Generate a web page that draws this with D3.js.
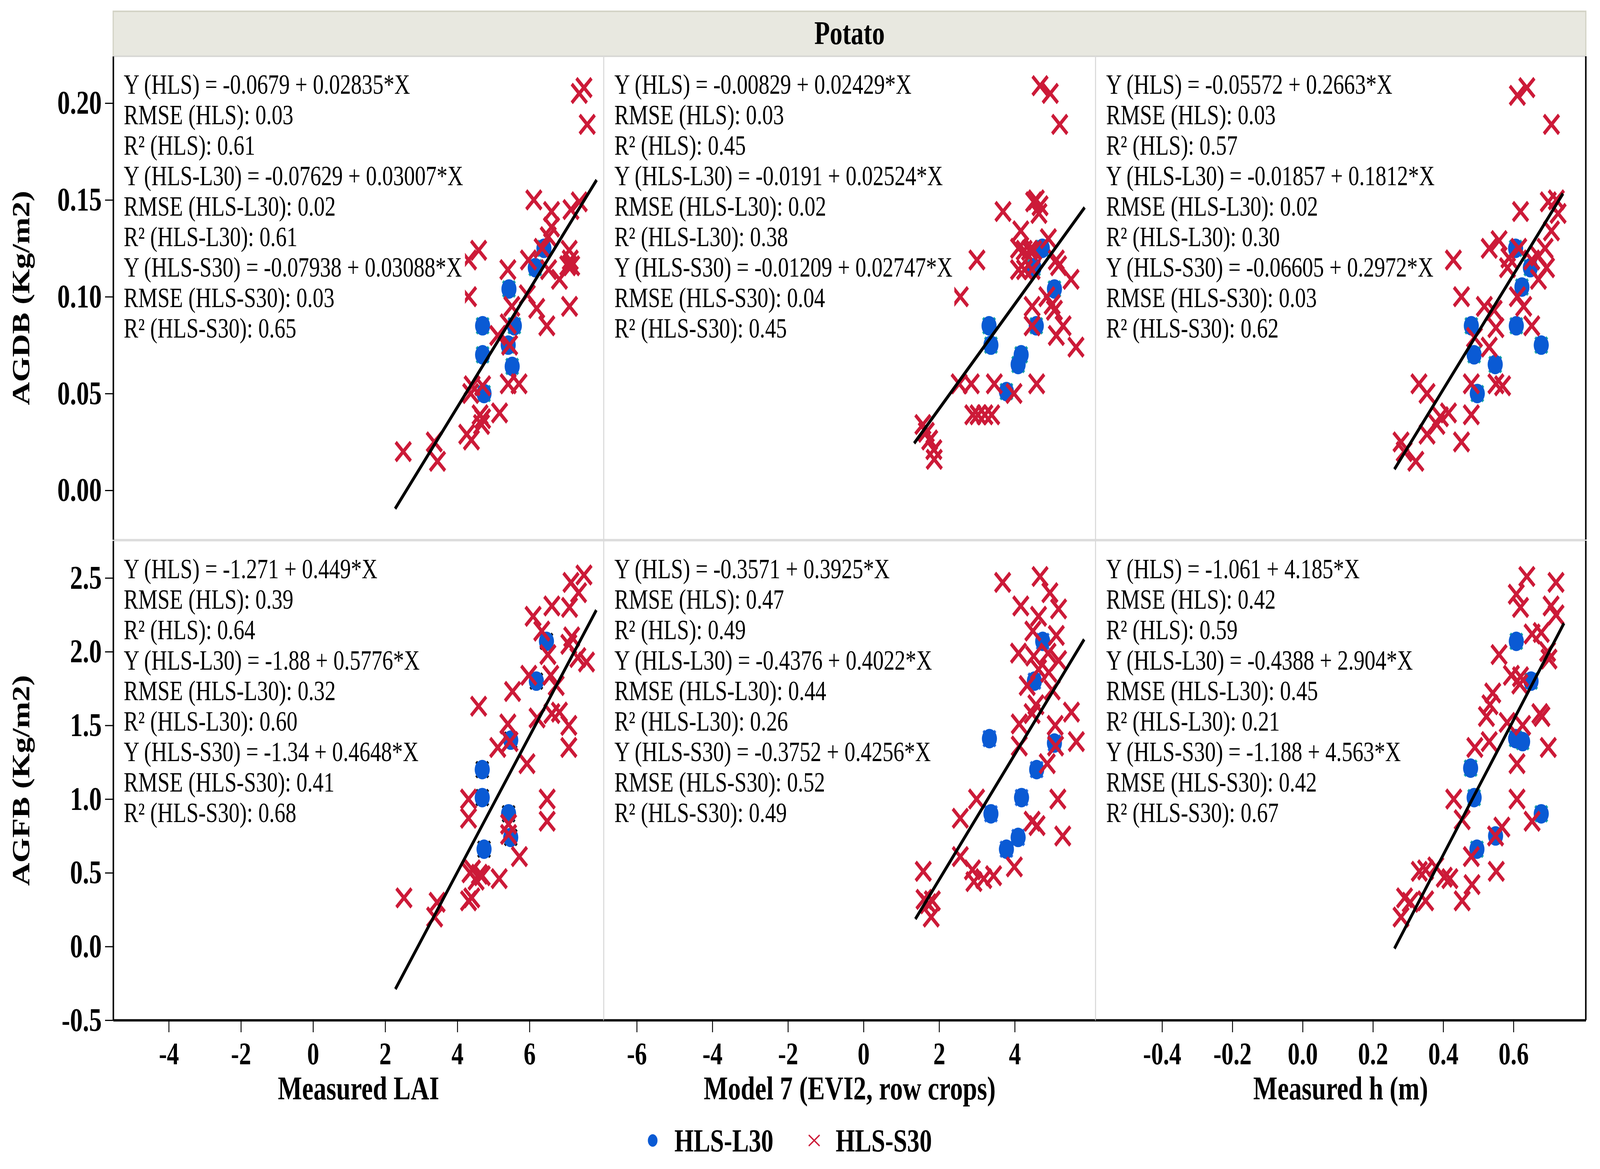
<!DOCTYPE html>
<html>
<head>
<meta charset="utf-8">
<script src="https://cdn.jsdelivr.net/npm/d3@7"></script>
<style>
  html, body { margin: 0; padding: 0; background: #fff; overflow: hidden; }
  svg { display: block; width: 100vw; height: 100vh; font-family: "Liberation Serif", "Times New Roman", serif; }
</style>
</head>
<body>
<div id="chart"></div>
<script>
// ---- data ----
var stripLabel = "Potato";
var xTitles = ["Measured LAI", "Model 7 (EVI2, row crops)", "Measured h (m)"];
var yTitles = ["AGDB (Kg/m2)", "AGFB (Kg/m2)"];
var seriesNames = ["HLS-L30", "HLS-S30"];

var colDomains = [[-5.54, 8.059], [-6.873, 6.138], [-0.5893, 0.8058]];
var rowDomains = [[-0.02543, 0.2242], [-0.4996, 2.7525]];
var colTicks = [[-4, -2, 0, 2, 4, 6], [-6, -4, -2, 0, 2, 4], [-0.4, -0.2, 0.0, 0.2, 0.4, 0.6]];
var rowTicks = [[0, 0.05, 0.10, 0.15, 0.20], [-0.5, 0, 0.5, 1.0, 1.5, 2.0, 2.5]];

// AGDB vs measured LAI
var agdbLaiL30 = [[6.40,0.125],[6.16,0.115],[5.43,0.104],[4.70,0.085],[5.58,0.085],[4.70,0.070],[5.41,0.075],[5.52,0.064],[4.74,0.050]];
var agdbLaiS30 = [[7.38,0.205],[7.51,0.208],[7.60,0.189],[6.12,0.150],[6.61,0.144],[7.15,0.145],[7.38,0.149],[6.61,0.136],[6.52,0.131],[6.35,0.125],[5.97,0.119],[7.10,0.124],[7.13,0.119],[7.17,0.116],[7.06,0.116],[6.83,0.109],[6.53,0.114],[7.11,0.095],[5.94,0.101],[6.20,0.094],[6.48,0.085],[5.40,0.114],[5.51,0.095],[4.59,0.124],[4.31,0.119],[4.31,0.100],[5.12,0.080],[5.41,0.086],[5.45,0.075],[4.41,0.054],[4.70,0.054],[5.41,0.055],[5.71,0.055],[4.37,0.050],[4.63,0.039],[4.70,0.037],[4.67,0.034],[5.17,0.040],[4.26,0.029],[4.39,0.026],[2.50,0.020],[3.36,0.025],[3.45,0.015]];
var agdbLaiFit = [[2.275,-0.0095],[7.861,0.1603]];
var agdbLaiStats = [["HLS","-0.0679","0.02835","0.03","0.61"],["HLS-L30","-0.07629","0.03007","0.02","0.61"],["HLS-S30","-0.07938","0.03088","0.03","0.65"]];

// AGDB vs Model 7
var agdbEviL30 = [[4.73,0.125],[4.51,0.115],[5.05,0.104],[3.32,0.085],[3.37,0.075],[4.57,0.085],[4.17,0.070],[4.09,0.065],[3.78,0.051]];
var agdbEviS30 = [[4.67,0.209],[4.94,0.205],[5.19,0.189],[3.69,0.144],[4.50,0.149],[4.57,0.150],[4.67,0.147],[4.64,0.143],[4.16,0.134],[4.89,0.130],[4.10,0.125],[4.25,0.124],[4.39,0.124],[4.50,0.124],[4.10,0.114],[4.26,0.114],[4.46,0.114],[5.10,0.119],[5.16,0.116],[5.49,0.109],[3.00,0.119],[2.56,0.100],[4.85,0.100],[4.99,0.096],[5.05,0.093],[4.46,0.095],[4.46,0.085],[5.28,0.085],[5.10,0.080],[5.62,0.074],[2.53,0.055],[2.85,0.055],[3.46,0.055],[4.58,0.055],[3.98,0.050],[2.89,0.039],[3.03,0.039],[3.21,0.039],[3.39,0.039],[1.57,0.034],[1.66,0.030],[1.75,0.026],[1.86,0.021],[1.87,0.016]];
var agdbEviFit = [[1.339,0.0243],[5.850,0.1461]];
var agdbEviStats = [["HLS","-0.00829","0.02429","0.03","0.45"],["HLS-L30","-0.0191","0.02524","0.02","0.38"],["HLS-S30","-0.01209","0.02747","0.04","0.45"]];

// AGDB vs measured h
var agdbHL30 = [[0.606,0.125],[0.648,0.115],[0.624,0.105],[0.480,0.085],[0.608,0.085],[0.679,0.075],[0.488,0.070],[0.548,0.065],[0.497,0.050]];
var agdbHS30 = [[0.611,0.204],[0.638,0.208],[0.708,0.189],[0.699,0.149],[0.722,0.150],[0.727,0.143],[0.620,0.144],[0.708,0.134],[0.559,0.129],[0.531,0.125],[0.690,0.125],[0.671,0.121],[0.694,0.115],[0.671,0.109],[0.615,0.125],[0.587,0.120],[0.583,0.115],[0.652,0.119],[0.429,0.119],[0.452,0.100],[0.611,0.100],[0.629,0.095],[0.517,0.095],[0.545,0.093],[0.550,0.084],[0.652,0.085],[0.489,0.079],[0.531,0.074],[0.331,0.055],[0.354,0.050],[0.480,0.055],[0.550,0.055],[0.569,0.054],[0.480,0.039],[0.415,0.040],[0.392,0.038],[0.382,0.034],[0.354,0.029],[0.452,0.025],[0.280,0.025],[0.289,0.020],[0.322,0.015]];
var agdbHFit = [[0.2612,0.0109],[0.7409,0.1533]];
var agdbHStats = [["HLS","-0.05572","0.2663","0.03","0.57"],["HLS-L30","-0.01857","0.1812","0.02","0.30"],["HLS-S30","-0.06605","0.2972","0.03","0.62"]];

// AGFB vs measured LAI
var agfbLaiL30 = [[6.47,2.07],[6.19,1.80],[5.48,1.40],[4.69,1.20],[4.69,1.01],[5.42,0.90],[5.48,0.74],[4.74,0.66]];
var agfbLaiS30 = [[7.51,2.52],[7.15,2.47],[7.36,2.40],[6.62,2.31],[7.11,2.30],[6.10,2.24],[6.34,2.14],[7.17,2.10],[7.09,2.05],[6.51,1.98],[7.34,1.96],[7.58,1.93],[5.98,1.84],[6.59,1.84],[6.74,1.77],[5.53,1.73],[4.59,1.63],[6.21,1.55],[6.62,1.58],[6.83,1.59],[7.09,1.50],[7.09,1.35],[5.40,1.51],[5.12,1.35],[5.46,1.39],[5.93,1.24],[4.31,1.00],[4.31,0.87],[6.49,1.00],[6.49,0.85],[5.42,0.83],[5.42,0.76],[5.72,0.61],[4.42,0.52],[4.61,0.49],[4.52,0.45],[4.69,0.48],[4.35,0.50],[5.16,0.46],[4.31,0.31],[4.40,0.33],[2.52,0.33],[3.44,0.30],[3.37,0.20]];
var agfbLaiFit = [[2.282,-0.289],[7.853,2.282]];
var agfbLaiStats = [["HLS","-1.271","0.449","0.39","0.64"],["HLS-L30","-1.88","0.5776","0.32","0.60"],["HLS-S30","-1.34","0.4648","0.41","0.68"]];

// AGFB vs Model 7
var agfbEviL30 = [[4.74,2.07],[4.52,1.80],[3.33,1.41],[5.05,1.38],[4.58,1.20],[3.37,0.90],[4.18,1.01],[4.09,0.74],[3.78,0.66]];
var agfbEviS30 = [[3.68,2.47],[4.67,2.51],[4.93,2.40],[4.16,2.31],[5.16,2.29],[4.63,2.24],[4.48,2.14],[5.10,2.11],[4.10,1.99],[4.50,1.97],[4.88,1.99],[5.16,1.94],[4.63,1.88],[4.90,1.86],[4.33,1.77],[4.99,1.74],[4.56,1.64],[4.46,1.58],[4.12,1.51],[5.50,1.59],[5.07,1.50],[5.63,1.39],[4.12,1.36],[5.08,1.36],[4.86,1.24],[2.99,1.00],[2.56,0.87],[5.14,1.00],[4.46,0.85],[4.59,0.82],[5.27,0.75],[2.56,0.61],[2.88,0.52],[2.92,0.44],[3.18,0.46],[3.44,0.48],[3.99,0.54],[1.58,0.51],[1.60,0.32],[1.82,0.31],[1.79,0.20],[1.71,0.29]];
var agfbEviFit = [[1.371,0.186],[5.837,2.083]];
var agfbEviStats = [["HLS","-0.3571","0.3925","0.47","0.49"],["HLS-L30","-0.4376","0.4022","0.44","0.26"],["HLS-S30","-0.3752","0.4256","0.52","0.49"]];

// AGFB vs measured h
var agfbHL30 = [[0.608,2.07],[0.650,1.80],[0.606,1.41],[0.626,1.39],[0.478,1.21],[0.488,1.01],[0.679,0.90],[0.549,0.75],[0.496,0.66]];
var agfbHS30 = [[0.638,2.51],[0.721,2.47],[0.608,2.39],[0.620,2.30],[0.707,2.31],[0.721,2.25],[0.653,2.12],[0.679,2.13],[0.701,1.95],[0.697,2.00],[0.559,1.98],[0.594,1.84],[0.620,1.83],[0.618,1.78],[0.541,1.72],[0.533,1.64],[0.523,1.56],[0.582,1.52],[0.626,1.50],[0.675,1.58],[0.681,1.56],[0.531,1.39],[0.490,1.35],[0.610,1.24],[0.699,1.35],[0.430,1.00],[0.454,0.86],[0.610,1.00],[0.653,0.85],[0.567,0.81],[0.549,0.75],[0.480,0.61],[0.551,0.51],[0.332,0.51],[0.350,0.52],[0.379,0.54],[0.403,0.47],[0.419,0.46],[0.482,0.42],[0.454,0.31],[0.290,0.33],[0.306,0.30],[0.350,0.31],[0.280,0.20]];
var agfbHFit = [[0.2612,-0.014],[0.7437,2.193]];
var agfbHStats = [["HLS","-1.061","4.185","0.42","0.59"],["HLS-L30","-0.4388","2.904","0.45","0.21"],["HLS-S30","-1.188","4.563","0.42","0.67"]];

// panel table built from the arrays above
var panels = [
  {row: 0, col: 0, l30: agdbLaiL30, s30: agdbLaiS30, fit: agdbLaiFit, stats: agdbLaiStats, under: "#17a6a6"},
  {row: 0, col: 1, l30: agdbEviL30, s30: agdbEviS30, fit: agdbEviFit, stats: agdbEviStats, under: "#17a6a6"},
  {row: 0, col: 2, l30: agdbHL30,   s30: agdbHS30,   fit: agdbHFit,   stats: agdbHStats,   under: "#17a6a6"},
  {row: 1, col: 0, l30: agfbLaiL30, s30: agfbLaiS30, fit: agfbLaiFit, stats: agfbLaiStats, under: "#111111"},
  {row: 1, col: 1, l30: agfbEviL30, s30: agfbEviS30, fit: agfbEviFit, stats: agfbEviStats, under: "#2a6fe0"},
  {row: 1, col: 2, l30: agfbHL30,   s30: agfbHS30,   fit: agfbHFit,   stats: agfbHStats,   under: "#17a6a6"}
];

// ---- layout (viewBox units, stretched to the window) ----
var width = 5300, height = 2992;
var colEdges = [375, 2000, 3629, 5253];
var rowEdges = [[144, 1381], [1384, 2611]];
var blue = "#0a5ad4", red = "#cc1a38";
var gridGrey = "#d9d9d9";

var svg = d3.select("#chart")
  .append("svg")
    .attr("viewBox", "0 0 " + width + " " + height)
    .attr("preserveAspectRatio", "none");

svg.append("rect")
  .attr("width", width)
  .attr("height", height)
  .attr("fill", "#fff");

// strip header
svg.append("rect")
  .attr("x", colEdges[0])
  .attr("y", 29)
  .attr("width", colEdges[3] - colEdges[0])
  .attr("height", 115)
  .attr("fill", "#e8e8e0")
  .attr("stroke", "#d3d3c6")
  .attr("stroke-width", 4);

svg.append("text")
  .attr("x", (colEdges[0] + colEdges[3]) / 2)
  .attr("y", 113)
  .attr("text-anchor", "middle")
  .attr("font-size", 84)
  .attr("font-weight", "bold")
  .text(stripLabel);

var xCross = function(s, h) {
  return "M" + (-s) + "," + (-h) + "L" + s + "," + h + "M" + (-s) + "," + h + "L" + s + "," + (-h);
};

var fmt = function(f) {
  return function(d) { return d3.format(f)(d).replace("\u2212", "-"); };
};

panels.forEach(function(p) {
  var x0 = colEdges[p.col], x1 = colEdges[p.col + 1];
  var y0 = rowEdges[p.row][0], y1 = rowEdges[p.row][1];

  var x = d3.scaleLinear().domain(colDomains[p.col]).range([x0, x1]);
  var y = d3.scaleLinear().domain(rowDomains[p.row]).range([y1, y0]);

  var g = svg.append("g");

  // light panel frame
  g.append("rect")
    .attr("x", x0)
    .attr("y", y0)
    .attr("width", x1 - x0)
    .attr("height", y1 - y0)
    .attr("fill", "none")
    .attr("stroke", gridGrey)
    .attr("stroke-width", 3);

  // small marks peeking out under the L30 dots
  g.selectAll(".under")
      .data(p.l30)
    .enter().append("path")
      .attr("d", xCross(20, 20))
      .attr("transform", function(d) { return "translate(" + x(d[0]) + "," + y(d[1]) + ")"; })
      .attr("fill", "none")
      .attr("stroke", p.under)
      .attr("stroke-width", 8);

  g.selectAll(".l30")
      .data(p.l30)
    .enter().append("circle")
      .attr("cx", function(d) { return x(d[0]); })
      .attr("cy", function(d) { return y(d[1]); })
      .attr("r", 25)
      .attr("fill", blue);

  g.selectAll(".s30")
      .data(p.s30)
    .enter().append("path")
      .attr("d", xCross(25, 24))
      .attr("transform", function(d) { return "translate(" + x(d[0]) + "," + y(d[1]) + ")"; })
      .attr("fill", "none")
      .attr("stroke", red)
      .attr("stroke-width", 10);

  // fit line
  g.append("path")
    .datum(p.fit)
    .attr("d", d3.line().x(function(d) { return x(d[0]); }).y(function(d) { return y(d[1]); }))
    .attr("fill", "none")
    .attr("stroke", "#000")
    .attr("stroke-width", 9);

  // text block with white background
  var lines = [];
  p.stats.forEach(function(s) {
    lines.push("Y (" + s[0] + ") = " + s[1] + " + " + s[2] + "*X");
    lines.push("RMSE (" + s[0] + "): " + s[3]);
    lines.push("R\u00b2 (" + s[0] + "): " + s[4]);
  });
  var tx = x0 + 35, ty = y0 + 96, lh = 78;
  var bg = g.append("rect").attr("fill", "#fff");
  var texts = g.selectAll(".stat")
      .data(lines)
    .enter().append("text")
      .attr("x", tx)
      .attr("y", function(d, i) { return ty + i * lh; })
      .attr("font-size", 72)
      .text(function(d) { return d; });
  var maxW = 0;
  texts.each(function() { maxW = Math.max(maxW, this.getComputedTextLength()); });
  bg.attr("x", tx - 6)
    .attr("y", ty - 62)
    .attr("width", maxW + 12)
    .attr("height", (lines.length - 1) * lh + 86);

  // left axis
  if (p.col === 0) {
    var ya = g.append("g")
      .attr("transform", "translate(" + x0 + ",0)")
      .call(d3.axisLeft(y).tickValues(rowTicks[p.row])
        .tickFormat(fmt(p.row === 0 ? ".2f" : ".1f"))
        .tickSize(27).tickPadding(11).tickSizeOuter(0));
    ya.select(".domain").attr("stroke-width", 5);
    ya.selectAll(".tick line").attr("stroke-width", 3);
    ya.selectAll(".tick text")
      .attr("font-family", "Liberation Serif")
      .attr("font-size", 84)
      .attr("font-weight", "bold")
      .attr("fill", "#000");

    g.append("text")
      .attr("transform", "translate(97," + (y0 + y1) / 2 + ")rotate(-90)")
      .attr("text-anchor", "middle")
      .attr("font-size", 82)
      .attr("font-weight", "bold")
      .text(yTitles[p.row]);
  }

  // right edge
  if (p.col === 2) {
    g.append("line")
      .attr("x1", x1).attr("x2", x1)
      .attr("y1", y0).attr("y2", y1)
      .attr("stroke", "#000")
      .attr("stroke-width", 5);
  }

  // bottom axis
  if (p.row === 1) {
    var xa = g.append("g")
      .attr("transform", "translate(0," + y1 + ")")
      .call(d3.axisBottom(x).tickValues(colTicks[p.col])
        .tickFormat(fmt(p.col === 2 ? ".1f" : "d"))
        .tickSize(31).tickPadding(25).tickSizeOuter(0));
    xa.select(".domain").attr("stroke-width", 6);
    xa.selectAll(".tick line").attr("stroke-width", 3);
    xa.selectAll(".tick text")
      .attr("font-family", "Liberation Serif")
      .attr("font-size", 80)
      .attr("font-weight", "bold")
      .attr("fill", "#000");

    g.append("text")
      .attr("x", (x0 + x1) / 2)
      .attr("y", 2814)
      .attr("text-anchor", "middle")
      .attr("font-size", 85)
      .attr("font-weight", "bold")
      .text(xTitles[p.col]);
  }
});

// legend
var legend = svg.append("g").attr("transform", "translate(0,2919)");
legend.append("circle")
  .attr("cx", 2162)
  .attr("r", 16)
  .attr("fill", blue);
legend.append("text")
  .attr("x", 2234)
  .attr("y", 28)
  .attr("font-size", 82)
  .attr("font-weight", "bold")
  .text(seriesNames[0]);
legend.append("path")
  .attr("d", xCross(18, 14))
  .attr("transform", "translate(2697,0)")
  .attr("fill", "none")
  .attr("stroke", red)
  .attr("stroke-width", 4);
legend.append("text")
  .attr("x", 2768)
  .attr("y", 28)
  .attr("font-size", 82)
  .attr("font-weight", "bold")
  .text(seriesNames[1]);
</script>
</body>
</html>
